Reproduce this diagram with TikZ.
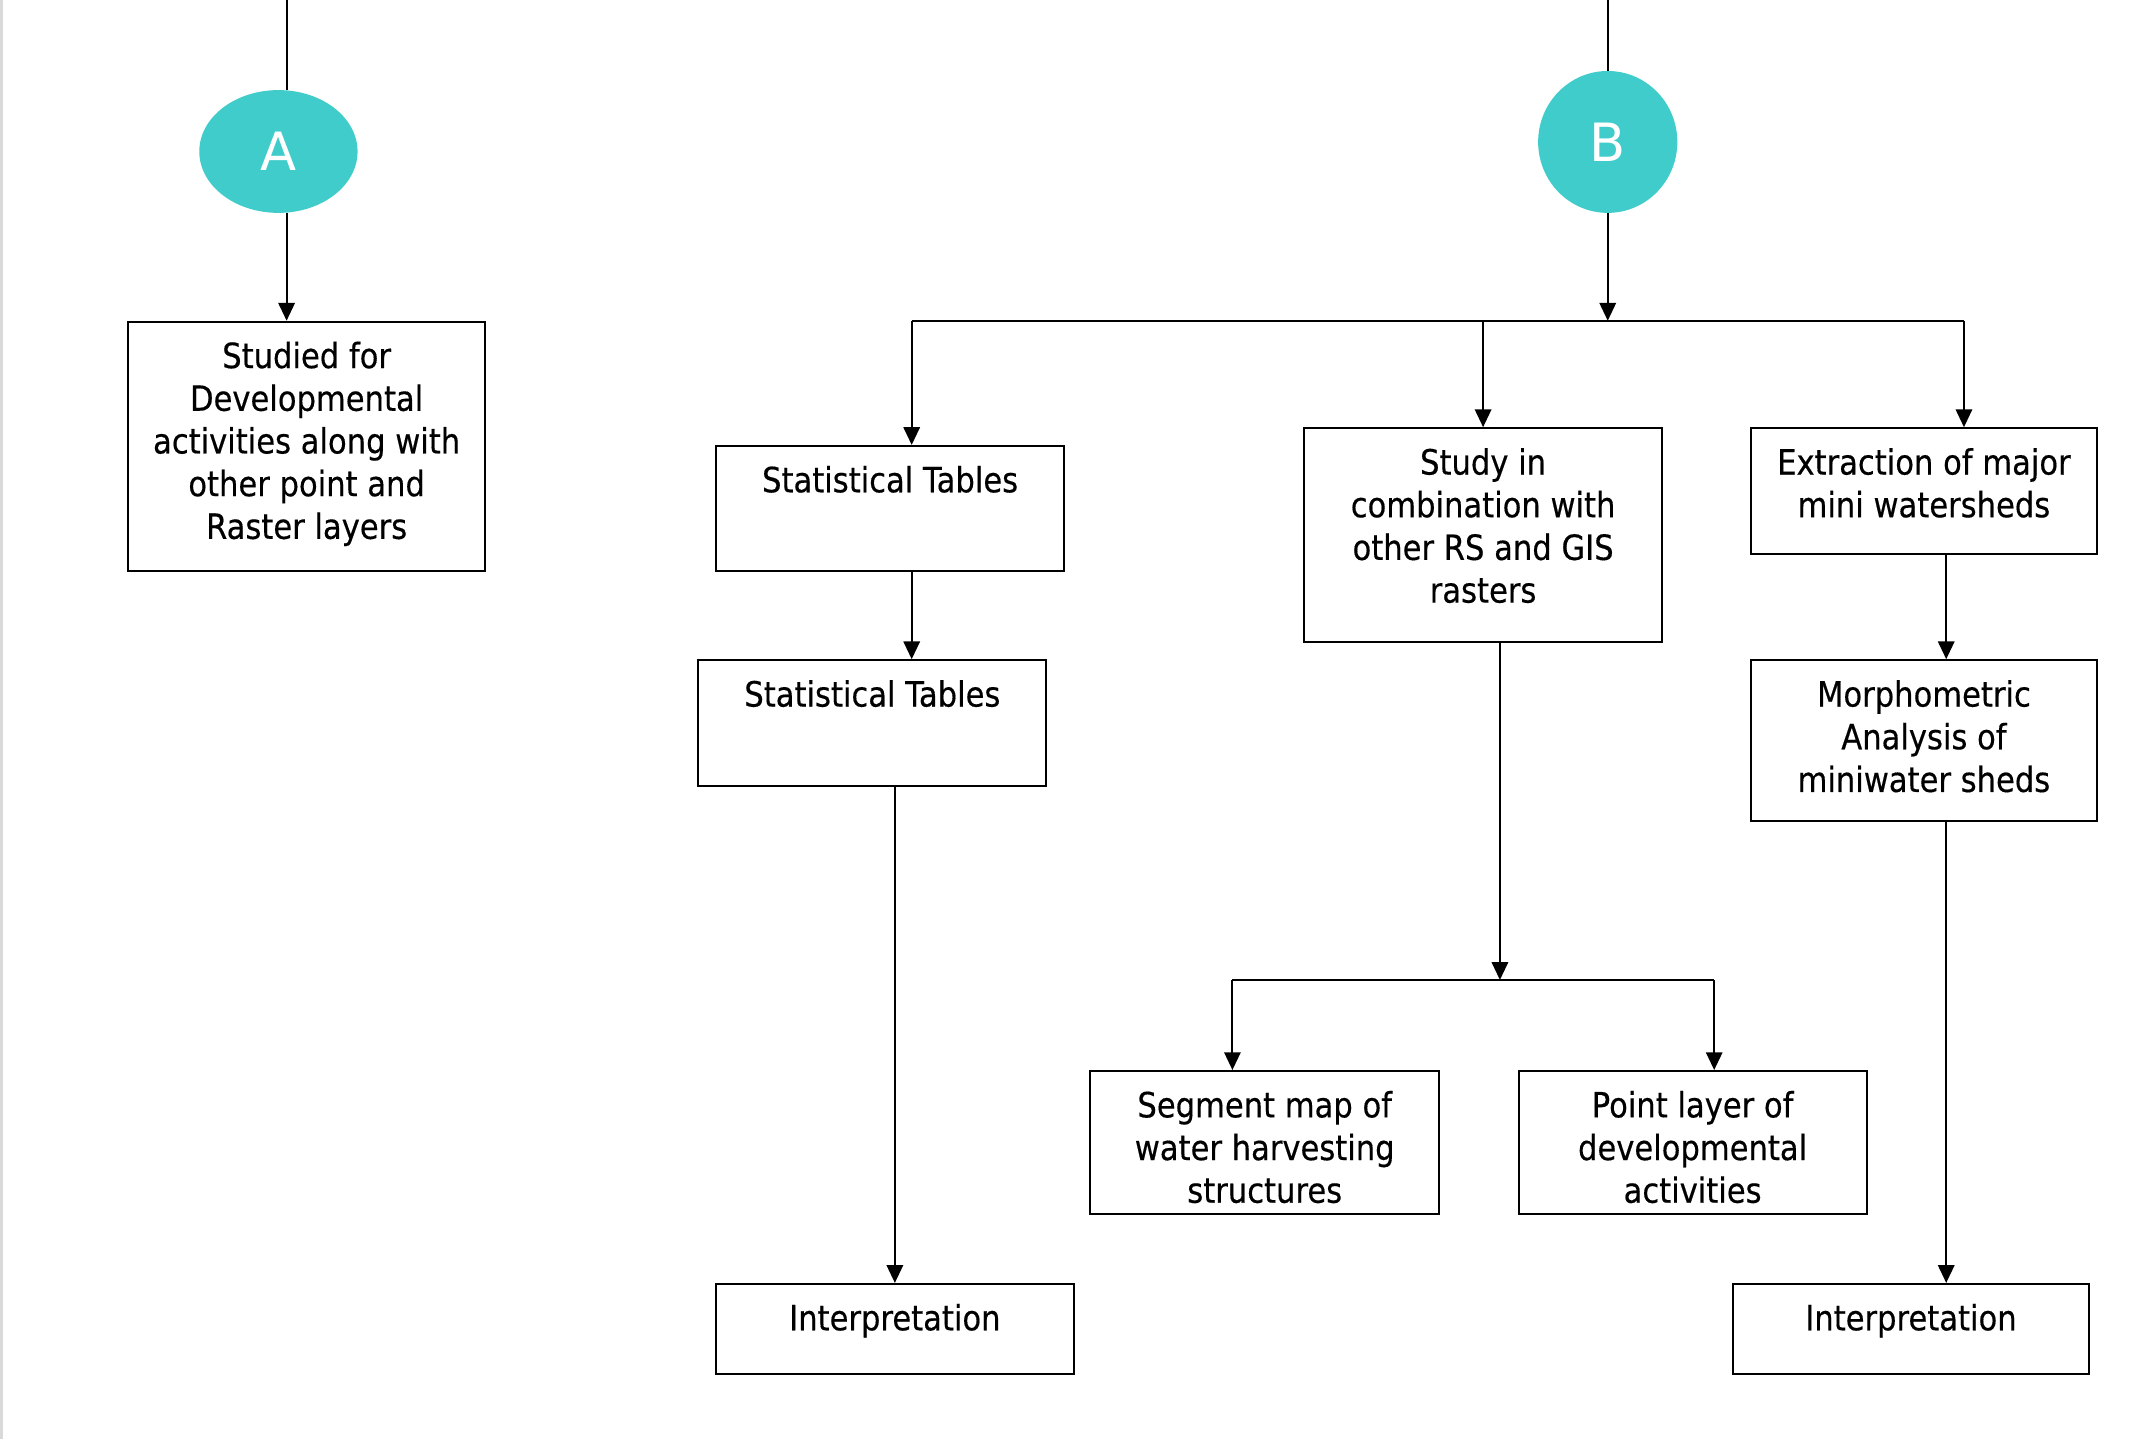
\documentclass[tikz,border=0pt]{standalone}
\usepackage{fontspec}
\usepackage{tikz}
\usepackage{xcolor}
\usetikzlibrary{shapes.geometric, arrows.meta, positioning, calc}
\setmainfont{DejaVu Sans}
\newfontfamily\boxfamily[FakeStretch=0.88, FakeBold=0.4]{DejaVu Sans}
\definecolor{MarkTeal}{HTML}{40CCCA}
\definecolor{EdgeGray}{HTML}{D9D9D9}
\tikzset{
    stepbox/.style={
        draw=black,
        line width=0.8pt,
        fill=white,
        anchor=north west,
        inner sep=0pt
    },
    steptext/.style={
        anchor=north,
        align=center,
        inner sep=0pt,
        yshift=-0.30cm,
        font=\boxfamily\fontsize{14.5}{17.8}\selectfont
    },
    marker/.style={
        ellipse,
        fill=MarkTeal,
        text=white,
        inner sep=0pt,
        font=\fontsize{22}{26}\selectfont
    },
    link/.style={
        line width=0.8pt,
        black
    },
    arrow/.style={
        -{Triangle[length=2.6mm, width=2.4mm]},
        line width=0.8pt,
        black
    }
}

\begin{document}
\begin{tikzpicture}[x=0.02cm, y=-0.02cm]
        \useasboundingbox (0,0) rectangle (1568,1054);
        \draw[EdgeGray, line width=1.2pt] (1,0) -- (1,1054);

        % Markers
        \node[marker, minimum width=2.32cm, minimum height=1.8cm] (markA) at (204,111) {A};
        \node[marker, minimum width=2.04cm, minimum height=2.08cm] (markB) at (1178,104) {B};

        % Step boxes
        \node[stepbox, minimum width=5.24cm, minimum height=3.66cm] (studied) at (93,235) {};
        \node[steptext] (studied-t) at (studied.north) {Studied for\\Developmental\\activities along with\\other point and\\Raster layers};

        \node[stepbox, minimum width=5.10cm, minimum height=1.84cm] (stat1) at (524,326) {};
        \node[steptext] (stat1-t) at (stat1.north) {Statistical Tables};

        \node[stepbox, minimum width=5.10cm, minimum height=1.84cm] (stat2) at (511,483) {};
        \node[steptext] (stat2-t) at (stat2.north) {Statistical Tables};

        \node[stepbox, minimum width=5.24cm, minimum height=1.32cm] (interp1) at (524,940) {};
        \node[steptext] (interp1-t) at (interp1.north) {Interpretation};

        \node[stepbox, minimum width=5.24cm, minimum height=3.14cm] (study) at (955,313) {};
        \node[steptext] (study-t) at (study.north) {Study in\\combination with\\other RS and GIS\\rasters};

        \node[stepbox, minimum width=5.12cm, minimum height=2.10cm] (segment) at (798,784) {};
        \node[steptext] (segment-t) at (segment.north) {Segment map of\\water harvesting\\structures};

        \node[stepbox, minimum width=5.10cm, minimum height=2.10cm] (point) at (1112,784) {};
        \node[steptext] (point-t) at (point.north) {Point layer of\\developmental\\activities};

        \node[stepbox, minimum width=5.08cm, minimum height=1.84cm] (extract) at (1282,313) {};
        \node[steptext] (extract-t) at (extract.north) {Extraction of major\\mini watersheds};

        \node[stepbox, minimum width=5.08cm, minimum height=2.36cm] (morpho) at (1282,483) {};
        \node[steptext] (morpho-t) at (morpho.north) {Morphometric\\Analysis of\\miniwater sheds};

        \node[stepbox, minimum width=5.22cm, minimum height=1.32cm] (interp2) at (1269,940) {};
        \node[steptext] (interp2-t) at (interp2.north) {Interpretation};

        % Branch points
        \coordinate (topA) at (210,0);
        \coordinate (topB) at (1178,0);
        \coordinate (busL) at (668,235);
        \coordinate (busB) at (1178,235);
        \coordinate (busR) at (1439,235);
        \coordinate (busS) at (1099,718);
        \coordinate (segL) at (903,718);
        \coordinate (segR) at (1256,718);
        \coordinate (morX) at (1426,0);

        % Connectors, left side
        \draw[link] (topA) -- (topA |- markA.north);
        \draw[arrow] (topA |- markA.south) -- (topA |- studied.north);

        % Connectors, right side
        \draw[link] (topB) -- (markB.north);
        \draw[arrow] (markB.south) -- (busB);
        \draw[link] (busL) -- (busR);
        \draw[arrow] (busL) -- (busL |- stat1.north);
        \draw[arrow] (busB -| study.north) -- (study.north);
        \draw[arrow] (busR) -- (busR |- extract.north);
        \draw[arrow] (busL |- stat1.south) -- (busL |- stat2.north);
        \draw[arrow] (interp1.north |- stat2.south) -- (interp1.north);
        \draw[arrow] (busS |- study.south) -- (busS);
        \draw[link] (segL) -- (segR);
        \draw[arrow] (segL) -- (segL |- segment.north);
        \draw[arrow] (segR) -- (segR |- point.north);
        \draw[arrow] (morX |- extract.south) -- (morX |- morpho.north);
        \draw[arrow] (morX |- morpho.south) -- (morX |- interp2.north);
    \end{tikzpicture}
\end{document}
